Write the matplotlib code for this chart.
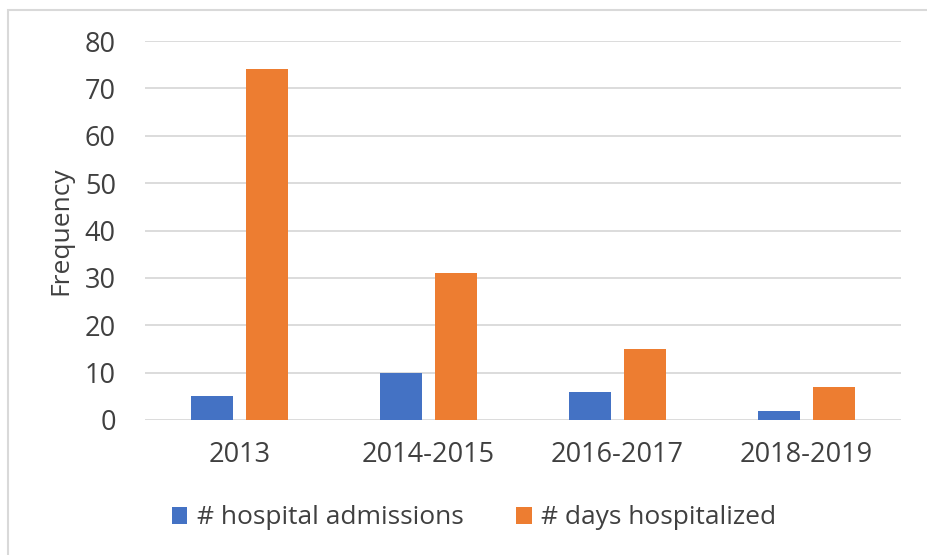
import matplotlib.pyplot as plt
import numpy as np
from matplotlib.patches import Rectangle

categories = ['2013', '2014-2015', '2016-2017', '2018-2019']
admissions = [5, 10, 6, 2]
days_hospitalized = [74, 31, 15, 7]
yticks = [0, 10, 20, 30, 40, 50, 60, 70, 80]

plt.rcParams['font.family'] = ['Open Sans', 'DejaVu Sans']

fig = plt.figure(figsize=(9.28, 5.55), dpi=100)
ax = fig.add_axes([145 / 928, 1 - 420 / 555, (901 - 145) / 928, (420 - 41) / 555])

# light frame around the chart, running off the right and bottom edges
fig.patches.append(Rectangle((8 / 928, -0.1), 1.2, 1 - 9.5 / 555 + 0.1,
                             transform=fig.transFigure, fill=False,
                             edgecolor='#d9d9d9', linewidth=1.5))

x = np.arange(len(categories))
w = 0.222
off = 0.1455
ax.bar(x - off, admissions, w, color='#4472C4', label='# hospital admissions', zorder=3)
ax.bar(x + off, days_hospitalized, w, color='#ED7D31', label='# days hospitalized', zorder=3)

ax.set_xlim(-0.5, len(categories) - 0.5)
ax.set_ylim(0, 80)
ax.set_yticks(yticks)
ax.set_xticks(x)
ax.set_xticklabels(categories)
ax.yaxis.grid(True, color='#d9d9d9', linewidth=1.3, zorder=0)
for s in ax.spines.values():
    s.set_visible(False)
ax.tick_params(length=0, labelsize=19.5, colors='#404040')
ax.tick_params(axis='x', pad=15)
ax.tick_params(axis='y', pad=21)
ax.set_ylabel('Frequency', fontsize=19, color='#404040', labelpad=8)

fig.legend(loc='center', bbox_to_anchor=(474 / 928, 1 - 518 / 555), ncol=2, frameon=False,
           fontsize=19, labelcolor='#404040', handlelength=0.6, handleheight=0.6,
           handletextpad=0.35, columnspacing=2.0)

plt.savefig('out.png', dpi=100)
plt.close()
